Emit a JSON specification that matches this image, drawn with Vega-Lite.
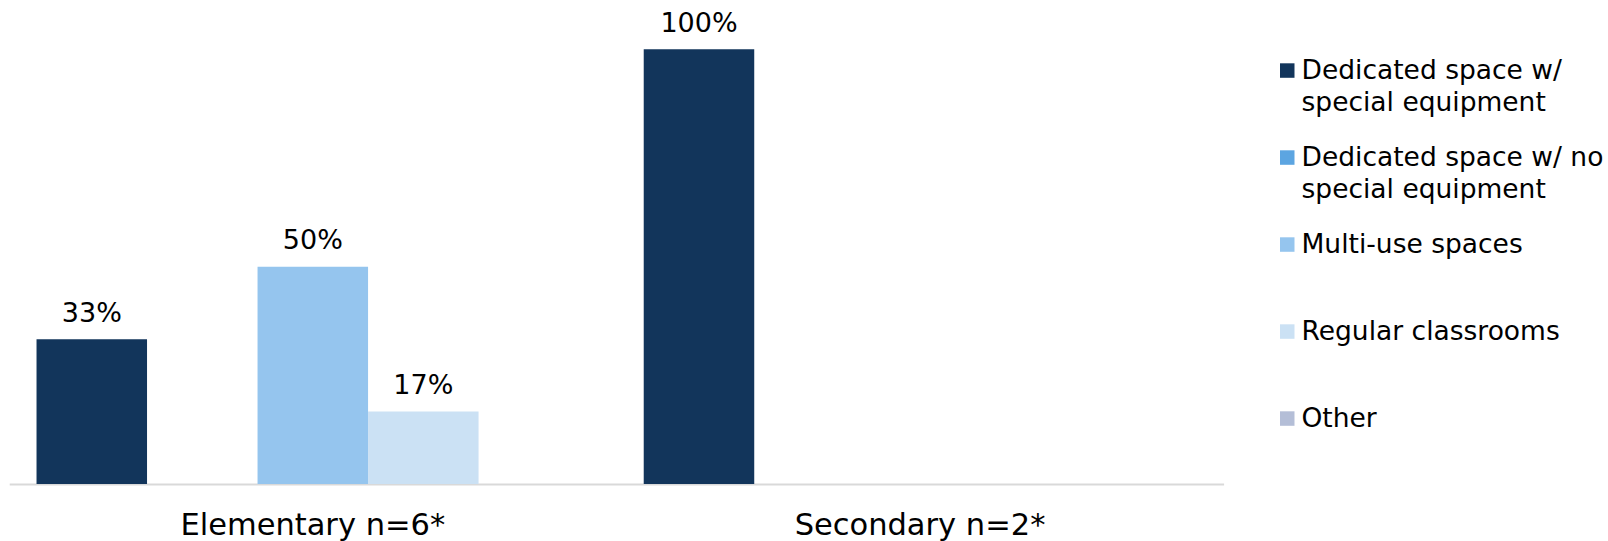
{
  "$schema": "https://vega.github.io/schema/vega-lite/v6.json",
  "autosize": "none",
  "width": 1214.4,
  "height": 434.7,
  "padding": {"left": 9.2, "top": 49.3, "right": 384.4, "bottom": 57},
  "background": "#ffffff",
  "data": {
    "values": [
      {"level": "Elementary n=6*", "space": "Dedicated space w/ special equipment", "value": 0.333},
      {"level": "Elementary n=6*", "space": "Dedicated space w/ no special equipment", "value": 0},
      {"level": "Elementary n=6*", "space": "Multi-use spaces", "value": 0.5},
      {"level": "Elementary n=6*", "space": "Regular classrooms", "value": 0.167},
      {"level": "Elementary n=6*", "space": "Other", "value": 0},
      {"level": "Secondary n=2*", "space": "Dedicated space w/ special equipment", "value": 1},
      {"level": "Secondary n=2*", "space": "Dedicated space w/ no special equipment", "value": 0},
      {"level": "Secondary n=2*", "space": "Multi-use spaces", "value": 0},
      {"level": "Secondary n=2*", "space": "Regular classrooms", "value": 0},
      {"level": "Secondary n=2*", "space": "Other", "value": 0}
    ]
  },
  "encoding": {
    "x": {
      "field": "level", "type": "nominal",
      "scale": {"paddingInner": 0.09, "paddingOuter": 0.045},
      "axis": {
        "title": null, "ticks": false, "labelAngle": 0,
        "domainColor": "#d9d9d9", "domainWidth": 2,
        "labelFont": "DejaVu Sans", "labelFontSize": 30.5, "labelColor": "#000000",
        "labelBaseline": "alphabetic", "labelPadding": 50, "labelLimit": 800
      }
    },
    "xOffset": {
      "field": "space", "type": "nominal",
      "sort": ["Dedicated space w/ special equipment", "Dedicated space w/ no special equipment", "Multi-use spaces", "Regular classrooms", "Other"],
      "scale": {"paddingInner": 0, "paddingOuter": 0}
    },
    "y": {
      "field": "value", "type": "quantitative",
      "scale": {"domain": [0, 1]},
      "axis": null
    }
  },
  "layer": [
    {
      "mark": {"type": "bar"},
      "encoding": {
        "color": {
          "field": "space", "type": "nominal",
          "scale": {
            "domain": ["Dedicated space w/ special equipment", "Dedicated space w/ no special equipment", "Multi-use spaces", "Regular classrooms", "Other"],
            "range": ["#12355b", "#5ca5e1", "#95c5ee", "#cbe1f4", "#b4bed7"]
          },
          "legend": {
            "title": null,
            "orient": "none",
            "legendX": 1264.8,
            "legendY": 8,
            "padding": 0,
            "symbolType": "square",
            "symbolSize": 210,
            "symbolStrokeWidth": 0,
            "symbolOpacity": 1,
            "labelFont": "DejaVu Sans",
            "labelFontSize": 26.5,
            "labelColor": "#000000",
            "labelOffset": 1,
            "labelLimit": 500,
            "rowPadding": 28,
            "labelExpr": "datum.label == 'Dedicated space w/ special equipment' ? ['Dedicated space w/', 'special equipment'] : datum.label == 'Dedicated space w/ no special equipment' ? ['Dedicated space w/ no', 'special equipment'] : [datum.label, ' ']"
          }
        }
      }
    },
    {
      "transform": [{"filter": "datum.value > 0"}],
      "mark": {"type": "text", "dy": -17.5, "baseline": "alphabetic", "font": "DejaVu Sans", "fontSize": 27, "color": "#000000"},
      "encoding": {
        "text": {"field": "value", "type": "quantitative", "format": ".0%"}
      }
    }
  ],
  "config": {
    "view": {"stroke": null},
    "style": {"guide-label": {"lineHeight": 32}}
  }
}
